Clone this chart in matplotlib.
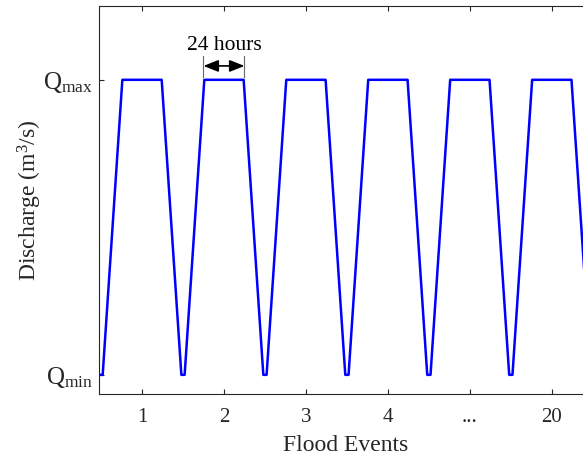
import matplotlib
matplotlib.use("Agg")
import matplotlib.pyplot as plt

plt.rcParams['font.family'] = ['Liberation Serif', 'DejaVu Serif']
plt.rcParams['mathtext.fontset'] = 'custom'
plt.rcParams['mathtext.rm'] = 'Liberation Serif'
plt.rcParams['mathtext.it'] = 'Liberation Serif:italic'

# hydrograph vertices (x in event units, q normalised: 0 = Qmin, 1 = Qmax)
t = [0.475, 0.52, 0.76, 1.24, 1.48, 1.52, 1.76, 2.24, 2.48, 2.52, 2.76, 3.24,
     3.48, 3.52, 3.76, 4.24, 4.48, 4.52, 4.76, 5.24, 5.48, 5.52, 5.76, 6.24,
     6.48, 6.52]
q = [0, 0, 1, 1, 0, 0, 1, 1, 0, 0, 1, 1,
     0, 0, 1, 1, 0, 0, 1, 1, 0, 0, 1, 1,
     0, 0]

event_pos = [1, 2, 3, 4, 5, 6]
event_labels = ['1', '2', '3', '4', '...', '20']
q_ticks = [0, 1]
q_labels = [r'Q$_{\mathrm{min}}$', r'Q$_{\mathrm{max}}$']

dark = '#262626'

fig = plt.figure(figsize=(5.83, 4.61), dpi=100)
ax = fig.add_axes([0.1698, 0.1453, 0.847, 0.8416])

ax.plot(t, q, color='#0000ff', lw=1.8)

ax.set_xlim(0.475, 6.5)
ax.set_ylim(-0.065, 1.25)
ax.set_xticks(event_pos)
ax.set_xticklabels(event_labels)
ax.set_yticks(q_ticks)
ax.set_yticklabels(q_labels)
ax.tick_params(direction='in', length=3.6, width=0.8, colors=dark,
               labelsize=15, top=True, right=True)
ax.tick_params(axis='x', pad=10)
ax.tick_params(axis='y', pad=4, labelsize=18)
for s in ax.spines.values():
    s.set_color(dark)
    s.set_linewidth(0.8)

ax.set_xlabel('Flood Events', fontsize=17, color=dark, labelpad=6)
ax.set_ylabel('Discharge (m$^3$/s)', fontsize=17, color=dark)
ax.yaxis.set_label_coords(-0.112, 0.5)

# 24 hours marker over the second peak
ax.annotate('', xy=(1.75, 1.047), xytext=(2.25, 1.047),
            arrowprops=dict(arrowstyle='<|-|>,head_length=0.5,head_width=0.2',
                            color='black', lw=1.2, mutation_scale=18,
                            shrinkA=0, shrinkB=0))
ax.plot([1.75, 1.75], [1.01, 1.08], color='#666666', lw=0.8)
ax.plot([2.25, 2.25], [1.01, 1.08], color='#666666', lw=0.8)
ax.text(2.0, 1.10, '24 hours', ha='center', va='baseline', fontsize=15.5,
        color='black')

fig.savefig('out.png', dpi=100)
